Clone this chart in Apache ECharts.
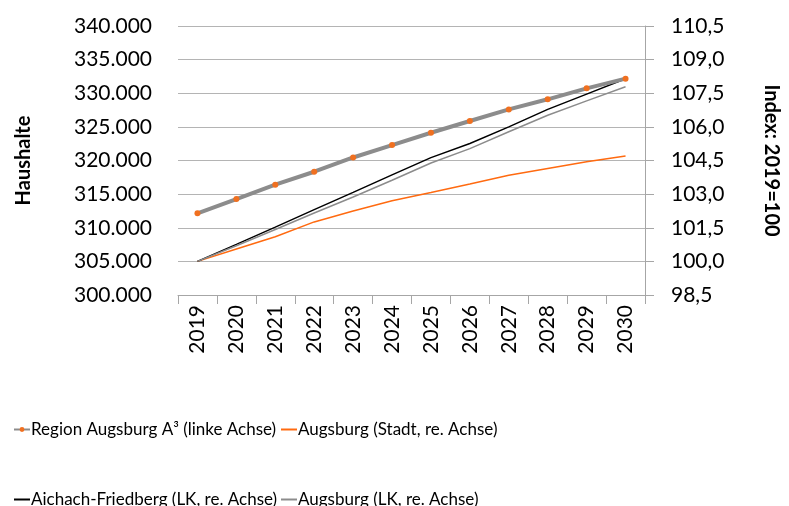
<!DOCTYPE html>
<html>
<head>
<meta charset="utf-8">
<script src="https://cdn.jsdelivr.net/npm/echarts@6/dist/echarts.min.js"></script>
<style>
  html, body { margin: 0; padding: 0; background: #fff; }
  #chart { width: 789px; height: 506px; }
</style>
</head>
<body>
<div id="chart"></div>
<script>
const years = ['2019', '2020', '2021', '2022', '2023', '2024', '2025', '2026', '2027', '2028', '2029', '2030']

// Haushalte, linke Achse
const regionAugsburg = [312150, 314270, 316400, 318330, 320450, 322300, 324130, 325870, 327600, 329100, 330730, 332170]

// Index 2019=100, rechte Achse
const augsburgStadt = [100, 100.55, 101.1, 101.76, 102.25, 102.7, 103.07, 103.45, 103.84, 104.14, 104.44, 104.7]
const aichachFriedberg = [100, 100.76, 101.53, 102.31, 103.08, 103.86, 104.63, 105.26, 106.0, 106.78, 107.46, 108.15]
const augsburgLK = [100, 100.7, 101.42, 102.16, 102.87, 103.62, 104.39, 105.03, 105.78, 106.52, 107.16, 107.79]

const seriesNames = [
  'Region Augsburg A³ (linke Achse)',
  'Augsburg (Stadt, re. Achse)',
  'Aichach-Friedberg (LK, re. Achse)',
  'Augsburg (LK, re. Achse)',
]

const font = 'Lato'
const axisFontSize = 21
const chart = echarts.init(document.getElementById('chart'))

// one legend per entry so the two rows / columns sit where the original has them
const legendPos = [[8, 416], [275, 416], [8, 486], [275, 486]]
const legends = seriesNames.map((name, i) => ({
  left: legendPos[i][0],
  top: legendPos[i][1],
  itemWidth: 16,
  itemHeight: 6,
  itemGap: 0,
  textStyle: { fontFamily: font, fontSize: 17, color: '#000', padding: [0, 0, 0, -4] },
  data: [i === 0 ? { name } : { name, itemStyle: { opacity: 0 } }],
}))

chart.setOption({
  animation: false,
  textStyle: { fontFamily: font },
  grid: { left: 178, right: 144, top: 26, bottom: 211, outerBoundsMode: 'none' },
  legend: legends,
  xAxis: {
    type: 'category',
    data: years,
    boundaryGap: true,
    axisLine: { lineStyle: { color: '#a6a6a6' } },
    axisTick: { show: true, length: 9, lineStyle: { color: '#a6a6a6' } },
    axisLabel: { rotate: 90, fontSize: axisFontSize, color: '#000', margin: 10, fontFamily: font },
  },
  yAxis: [
    {
      type: 'value',
      min: 300000,
      max: 340000,
      interval: 5000,
      name: 'Haushalte',
      nameLocation: 'middle',
      nameRotate: 90,
      nameGap: 144,
      nameTextStyle: { fontSize: 20, fontWeight: 'bold', color: '#000', fontFamily: font },
      axisLine: { show: false },
      axisTick: { show: false },
      splitLine: { lineStyle: { color: '#b4b4b4' } },
      axisLabel: {
        fontSize: axisFontSize,
        color: '#000',
        margin: 26,
        fontFamily: font,
        formatter: (v) => v.toLocaleString('de-DE'),
      },
    },
    {
      type: 'value',
      min: 98.5,
      max: 110.5,
      interval: 1.5,
      name: 'Index: 2019=100',
      nameLocation: 'middle',
      nameRotate: -90,
      nameGap: 116,
      nameTextStyle: { fontSize: 20, fontWeight: 'bold', color: '#000', fontFamily: font },
      axisLine: { show: true, lineStyle: { color: '#a6a6a6' } },
      axisTick: { show: true, length: 9, lineStyle: { color: '#a6a6a6' } },
      splitLine: { show: false },
      axisLabel: {
        fontSize: axisFontSize,
        color: '#000',
        margin: 26,
        fontFamily: font,
        formatter: (v) => v.toFixed(1).replace('.', ','),
      },
    },
  ],
  series: [
    {
      name: seriesNames[0],
      type: 'line',
      yAxisIndex: 0,
      data: regionAugsburg,
      symbol: 'circle',
      symbolSize: 6,
      lineStyle: { color: '#8c8c8c', width: 4 },
      itemStyle: { color: '#f07020', borderWidth: 0 },
      z: 5,
    },
    {
      name: seriesNames[1],
      type: 'line',
      yAxisIndex: 1,
      data: augsburgStadt,
      symbol: 'none',
      lineStyle: { color: '#ff6a10', width: 1.5 },
      itemStyle: { color: '#ff6a10' },
    },
    {
      name: seriesNames[2],
      type: 'line',
      yAxisIndex: 1,
      data: aichachFriedberg,
      symbol: 'none',
      lineStyle: { color: '#000', width: 1.5 },
      itemStyle: { color: '#000' },
    },
    {
      name: seriesNames[3],
      type: 'line',
      yAxisIndex: 1,
      data: augsburgLK,
      symbol: 'none',
      lineStyle: { color: '#8c8c8c', width: 1.5 },
      itemStyle: { color: '#8c8c8c' },
    },
  ],
})
</script>
</body>
</html>
